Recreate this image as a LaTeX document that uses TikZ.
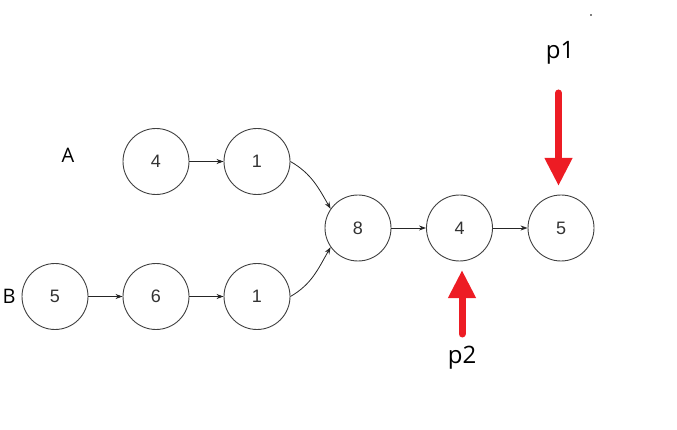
\documentclass[tikz,border=0pt]{standalone}
\usepackage{fontspec}
\setmainfont{Liberation Sans}
\newfontfamily\labfont{Open Sans}
\usetikzlibrary{arrows.meta}
\definecolor{ptrred}{RGB}{237,28,36}
\tikzset{
  lnode/.style={circle,draw=black!75,line width=0.9pt,minimum size=66pt,inner sep=0pt,font=\fontsize{18}{20}\selectfont,text=black!80},
  link/.style={-{Stealth[length=7pt,width=5pt]},line width=0.8pt,black!85},
  ptr/.style={-{Triangle[length=28pt,width=26pt]},line width=7pt,ptrred,line cap=round},
  side/.style={font=\labfont\fontsize{20}{22}\selectfont},
  plab/.style={font=\labfont\fontsize{24}{26}\selectfont}
}
\begin{document}
\begin{tikzpicture}[x=1pt,y=1pt]
\useasboundingbox (0,0) rectangle (677,-430);
\node[lnode] (a4) at (156,-161.5) {4};
\node[lnode] (a1) at (257,-161.5) {1};
\node[lnode] (b5) at (55,-296.5) {5};
\node[lnode] (b6) at (156,-296.5) {6};
\node[lnode] (b1) at (257,-296.5) {1};
\node[lnode] (m8) at (358,-228) {8};
\node[lnode] (m4) at (459.5,-228) {4};
\node[lnode] (m5) at (561,-228) {5};
\node[side] (la) at (68,-155) {A};
\node[side] (lb) at (9,-296.5) {B};
\node[plab] (p1) at (560,-53) {p1};
\node[plab] (p2) at (462,-358) {p2};
\coordinate (p1s) at (558.5,-93);
\coordinate (p1e) at (558.5,-186);
\coordinate (p2s) at (462,-334);
\coordinate (p2e) at (462,-270);
\draw[link] (a4) -- (a1);
\draw[link] (b5) -- (b6);
\draw[link] (b6) -- (b1);
\draw[link] (m8) -- (m4);
\draw[link] (m4) -- (m5);
\draw[link] (a1.east) to[out=-30,in=120] (m8.145);
\draw[link] (b1.east) to[out=30,in=-120] (m8.215);
\draw[ptr] (p1s) -- (p1e);
\draw[ptr] (p2s) -- (p2e);
\fill[black!50] (590,-14) rectangle (592,-16);
\end{tikzpicture}
\end{document}
